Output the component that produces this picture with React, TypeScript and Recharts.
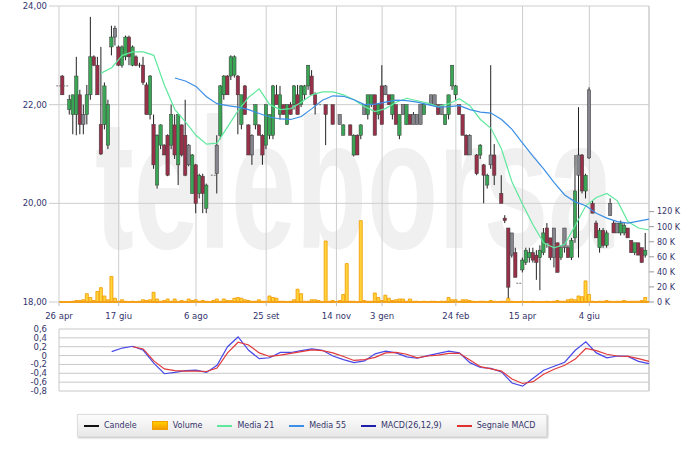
import React from 'react'
import { ComposedChart, Bar, Line, XAxis, YAxis, CartesianGrid, ReferenceLine } from 'recharts'

const FONT = "Tahoma, 'DejaVu Sans', sans-serif"
const TEXT = '#34346c'

// sessions on the x axis where a date label sits
const tickSessions = [0, 17, 39, 59, 79, 92, 113, 132, 151]
const tickLabels = ['26 apr', '17 giu', '6 ago', '25 set', '14 nov', '3 gen', '24 feb', '15 apr', '4 giu']
const lastSession = 168

const priceTicks = [18, 20, 22, 24]
const volTicks = [0, 20, 40, 60, 80, 100, 120]
const macdTicks = [0.6, 0.4, 0.2, 0, -0.2, -0.4, -0.6, -0.8]

// [open, high, low, close] per session, null = no trades
const candles: (number[] | null)[] = [
  // 0-9
  [22.38, 22.38, 22.38, 22.38], [22.58, 22.6, 22.2, 22.2], [22.38, 22.38, 22.38, 22.38], [21.9, 22.2, 21.8, 22.1], [21.8, 22.2, 21.4, 22.2],
  [21.8, 22.97, 21.38, 22.58], [22.2, 22.3, 21.4, 21.6], [21.8, 22.0, 21.4, 21.6], [21.8, 22.4, 21.6, 22.2], [22.2, 23.78, 22.1, 22.97],
  // 10-19
  [22.97, 23.0, 22.78, 22.8], [22.8, 22.97, 22.2, 22.2], [21.6, 23.17, 20.98, 21.0], [21.6, 22.45, 21.5, 22.38], [21.18, 22.1, 21.1, 22.0],
  [23.17, 23.6, 23.0, 23.37], [23.55, 23.6, 23.2, 23.37], [23.17, 23.2, 22.78, 22.8], [22.8, 23.2, 22.75, 23.17], [22.97, 23.4, 22.9, 23.37],
  // 20-29
  [23.37, 23.4, 22.8, 22.97], [22.8, 23.2, 22.78, 23.17], [22.97, 23.0, 22.78, 22.8], [22.8, 22.85, 22.75, 22.8], [22.8, 22.97, 22.4, 22.45],
  [22.4, 22.45, 21.8, 21.8], [21.8, 22.6, 21.7, 22.58], [21.6, 21.8, 20.7, 20.78], [20.37, 21.4, 20.3, 21.38], [21.18, 21.6, 21.1, 21.59],
  // 30-39
  [21.18, 21.2, 20.98, 20.98], [21.38, 21.4, 20.55, 20.57], [21.18, 22.0, 21.1, 21.8], [21.59, 21.8, 20.9, 20.98], [20.78, 21.8, 20.37, 21.8],
  [21.59, 21.6, 20.95, 20.98], [21.38, 22.1, 20.55, 20.57], [21.18, 21.2, 20.75, 20.78], [20.2, 21.0, 20.2, 20.98], [20.78, 20.8, 19.8, 20.0],
  // 40-49
  [20.2, 20.6, 20.1, 20.57], [20.55, 20.6, 19.8, 20.2], [19.9, 20.4, 19.8, 20.37], null, [20.57, 20.57, 20.57, 20.57],
  [21.18, 21.38, 20.2, 20.6], [21.38, 22.4, 21.3, 22.38], [22.2, 22.6, 22.1, 22.58], [22.58, 22.6, 22.2, 22.2], [22.58, 23.0, 22.5, 22.97],
  // 50-59
  [22.6, 23.0, 22.55, 22.97], [22.58, 22.6, 21.4, 22.2], [21.6, 22.2, 21.5, 22.2], [22.38, 22.4, 21.8, 21.8], [21.59, 21.6, 20.98, 20.98],
  [21.38, 21.4, 20.78, 20.98], [21.59, 22.0, 21.5, 22.0], [21.59, 21.6, 21.38, 21.38], [21.38, 21.4, 20.78, 20.98], [21.18, 22.0, 21.1, 22.0],
  // 60-69
  [21.38, 21.8, 21.3, 21.8], [21.38, 22.4, 21.3, 22.38], [22.2, 22.4, 22.0, 22.0], [21.8, 22.38, 21.7, 22.2], [22.0, 22.0, 21.8, 21.8],
  [21.6, 22.0, 21.59, 22.0], [22.0, 22.05, 21.8, 21.8], [22.0, 22.4, 21.9, 22.38], [22.2, 22.4, 21.8, 21.8], [22.0, 22.4, 21.95, 22.38],
  // 70-79
  [22.2, 22.4, 22.1, 22.38], [22.38, 22.8, 22.3, 22.8], [22.58, 22.7, 22.2, 22.2], [22.2, 22.25, 21.8, 22.0], [22.0, 22.0, 22.0, 22.0],
  null, [22.0, 22.0, 21.18, 21.8], null, [22.0, 22.0, 21.6, 21.6], null,
  // 80-89
  [21.8, 21.8, 21.6, 21.6], [21.38, 21.6, 21.38, 21.59], null, [21.59, 21.6, 21.38, 21.38], [20.98, 21.4, 20.95, 21.38],
  [21.38, 21.4, 20.98, 20.98], [21.38, 21.6, 21.3, 21.59], [22.0, 22.0, 21.8, 21.8], [21.8, 22.2, 21.7, 22.2], [22.0, 22.2, 21.95, 22.2],
  // 90-99
  [22.2, 22.2, 21.38, 21.38], [21.8, 22.0, 21.7, 22.0], [22.38, 22.8, 21.6, 21.6], [22.38, 22.4, 22.2, 22.2], [22.2, 22.2, 22.0, 22.0],
  [21.8, 22.2, 21.7, 22.2], [22.0, 22.0, 21.6, 21.6], [21.38, 21.8, 21.3, 21.8], [22.0, 22.0, 21.8, 21.8], [21.6, 22.0, 21.59, 22.0],
  // 100-109
  [21.8, 21.8, 21.6, 21.6], [21.8, 21.85, 21.6, 21.6], [21.8, 21.8, 21.6, 21.6], [22.0, 22.0, 21.6, 21.6], [21.8, 22.0, 21.8, 22.0],
  null, [22.2, 22.2, 22.0, 22.0], [22.2, 22.2, 22.0, 22.0], [22.0, 22.0, 21.8, 21.8], [22.0, 22.0, 21.8, 21.8],
  // 110-119
  [21.6, 21.8, 21.59, 21.8], [21.8, 22.2, 21.7, 22.2], [22.38, 22.8, 22.3, 22.8], [22.2, 22.4, 22.1, 22.38], [22.0, 22.0, 21.8, 21.8],
  [21.8, 21.8, 21.38, 21.38], [21.38, 21.4, 20.98, 20.98], [21.38, 21.4, 20.98, 20.98], null, [20.98, 21.0, 20.57, 20.6],
  // 120-129
  [20.98, 21.2, 20.9, 21.18], [20.78, 20.8, 20.0, 20.57], [20.37, 20.6, 20.3, 20.57], [20.98, 22.8, 20.7, 20.78], [20.98, 21.2, 20.37, 20.57],
  null, [20.2, 20.57, 20.0, 20.0], [19.7, 19.76, 19.6, 19.65], [19.5, 19.5, 18.08, 18.3], [19.4, 19.4, 18.9, 18.95],
  // 130-139
  [19.0, 19.1, 18.5, 18.5], [18.38, 18.38, 18.38, 18.38], [18.65, 18.9, 18.6, 18.85], [18.8, 19.1, 18.75, 19.05], [18.9, 19.1, 18.8, 19.0],
  [19.0, 19.1, 18.8, 18.85], [18.95, 19.05, 18.45, 18.8], [18.9, 19.15, 18.24, 19.05], [19.0, 19.5, 18.95, 19.4], [19.5, 19.6, 19.1, 19.2],
  // 140-149
  [19.3, 19.3, 18.85, 18.9], [19.5, 19.5, 18.7, 18.9], [19.2, 19.2, 18.6, 18.6], [18.9, 19.15, 18.85, 19.1], [19.5, 19.5, 19.0, 19.1],
  [19.1, 19.15, 18.9, 18.9], [18.9, 19.3, 18.85, 19.25], [19.3, 20.98, 19.2, 20.25], [20.98, 21.95, 18.9, 20.57], [20.98, 21.0, 20.2, 20.25],
  // 150-159
  [20.25, 20.6, 20.1, 20.57], [22.3, 22.35, 20.9, 20.92], [20.0, 20.05, 19.8, 19.8], [19.6, 19.65, 19.3, 19.3], [19.1, 19.5, 19.0, 19.45],
  [19.45, 19.5, 19.1, 19.15], [19.15, 19.45, 19.1, 19.4], [20.0, 20.1, 19.75, 19.75], [19.6, 19.65, 19.4, 19.4], [19.6, 19.6, 19.4, 19.4],
  // 160-167
  [19.4, 19.65, 19.35, 19.6], [19.4, 19.6, 19.35, 19.55], [19.5, 19.5, 19.3, 19.3], [19.25, 19.25, 19.0, 19.0], [19.0, 19.2, 18.95, 19.2],
  [19.2, 19.2, 18.95, 18.95], [19.1, 19.1, 18.8, 18.8], [18.95, 19.4, 18.9, 19.05],
]

// traded volume per session, thousands
const volumes = [
  0, 0, 0, 0, 1, 2, 2, 3, 11, 6,
  2, 14, 19, 8, 3, 34, 5, 1, 3, 1,
  0, 1, 0, 1, 3, 2, 3, 13, 4, 1,
  2, 4, 1, 4, 1, 2, 1, 4, 2, 3,
  1, 2, 1, 0, 2, 4, 1, 4, 2, 2,
  5, 6, 5, 3, 2, 1, 1, 3, 1, 1,
  8, 6, 5, 1, 1, 0, 1, 3, 17, 11,
  1, 1, 3, 3, 2, 0, 81, 1, 2, 0,
  2, 10, 51, 1, 1, 0, 108, 2, 1, 1,
  12, 6, 2, 9, 5, 2, 3, 4, 4, 1,
  4, 1, 1, 0, 1, 0, 1, 1, 0, 1,
  1, 6, 3, 3, 1, 3, 3, 2, 1, 0,
  1, 1, 0, 2, 1, 0, 1, 1, 5, 1,
  0, 0, 1, 0, 0, 1, 0, 0, 0, 1,
  0, 1, 2, 1, 1, 3, 4, 3, 8, 7,
  28, 10, 1, 0, 1, 1, 2, 1, 0, 1,
  1, 2, 1, 1, 1, 1, 2, 6,
]

// indicator readings every 3 sessions (0, 3, 6 ... 168)
const lineStep = 3
const ma21 = [
  null, null, null, null, 22.64, 22.75, 23.0, 23.07, 23.07, 23.0,
  22.4, 21.9, 21.65, 21.38, 21.2, 21.22, 21.55, 21.88, 22.15, 22.32,
  22.0, 21.9, 21.92, 22.05, 22.2, 22.26, 22.26, 22.2, 22.1, 21.96,
  21.86, 21.92, 22.05, 22.13, 22.08, 22.03, 21.96, 22.02, 22.12, 21.98,
  21.7, 21.52, 21.1, 20.43, 19.98, 19.56, 19.2, 19.1, 19.17, 19.55,
  19.95, 20.12, 20.2, 20.05, 19.63, 19.5, 19.46,
]
const ma55 = [
  null, null, null, null, null, null, null, null, null, null,
  null, 22.54, 22.48, 22.37, 22.16, 22.02, 21.98, 21.95, 21.9, 21.82,
  21.75, 21.71, 21.7, 21.76, 21.92, 22.09, 22.18, 22.17, 22.1, 22.0,
  22.01, 22.05, 22.09, 22.08, 22.05, 22.0, 21.95, 21.96, 21.98, 21.9,
  21.85, 21.83, 21.7, 21.5, 21.22, 20.95, 20.7, 20.42, 20.17, 20.03,
  19.95, 19.8, 19.7, 19.63, 19.6, 19.64, 19.68,
]
const macd = [
  null, null, null, null, null, 0.09, 0.17, 0.21, 0.12, -0.17,
  -0.41, -0.38, -0.34, -0.33, -0.38, -0.22, 0.2, 0.42, 0.12, -0.07,
  -0.05, 0.07, 0.07, 0.11, 0.15, 0.12, -0.01, -0.09, -0.16, -0.12,
  0.04, 0.1, 0.06, -0.03, -0.06, 0.0, 0.05, 0.1, 0.06, -0.16,
  -0.27, -0.29, -0.37, -0.62, -0.69, -0.51, -0.33, -0.24, -0.15, 0.12,
  0.31, 0.06, -0.05, -0.01, -0.02, -0.13, -0.18,
]
const signal = [
  null, null, null, null, null, null, null, 0.2, 0.15, -0.12,
  -0.3, -0.34, -0.35, -0.35, -0.36, -0.28, 0.06, 0.3, 0.24, 0.06,
  -0.02, 0.01, 0.05, 0.09, 0.13, 0.11, 0.06, -0.02, -0.11, -0.09,
  -0.04, 0.06, 0.07, 0.03, -0.05, -0.01, 0.01, 0.05, 0.05, -0.1,
  -0.25, -0.3, -0.35, -0.53, -0.63, -0.59, -0.42, -0.31, -0.22, -0.08,
  0.16, 0.11, 0.03, -0.01, -0.02, -0.07, -0.13,
]

const legendItems = [
  { label: 'Candele', color: '#111111', box: false },
  { label: 'Volume', color: '#f5a300', box: true },
  { label: 'Media 21', color: '#5fe89c', box: false },
  { label: 'Media 55', color: '#3b8fe6', box: false },
  { label: 'MACD(26,12,9)', color: '#1f1faa', box: false },
  { label: 'Segnale MACD', color: '#e03030', box: false },
]

const rows = Array.from({ length: lastSession + 1 }, (_, i) => {
  const c = candles[i] ?? null
  let prevClose: number | null = null
  for (let k = i - 1; k >= 0; k--) {
    if (candles[k]) { prevClose = candles[k]![3]; break }
  }
  const li = i % lineStep === 0 ? i / lineStep : -1
  return {
    i,
    ohlc: c,
    prevClose,
    range: c ? [c[2], c[1]] : null,
    vol: i < volumes.length ? volumes[i] : null,
    ma21: li >= 0 ? ma21[li] : null,
    ma55: li >= 0 ? ma55[li] : null,
    macd: li >= 0 ? macd[li] : null,
    signal: li >= 0 ? signal[li] : null,
  }
})

const dateLabel = (v: number) => tickLabels[tickSessions.indexOf(v)] ?? ''
const comma = (v: number, d: number) => (v === 0 ? '0' : v.toFixed(d).replace('.', ','))

const Candle = (props: any) => {
  const { x, y, width, height, payload } = props
  if (!payload || !payload.ohlc) return null
  const [o, h, l, c] = payload.ohlc
  const cx = x + width / 2
  const top = Math.min(y, y + height)
  const span = Math.abs(height)
  const yOf = (v: number) => (h === l ? top : top + ((h - v) / (h - l)) * span)

  if (o === c) {
    return (
      <g>
        {h !== l && <line x1={cx} x2={cx} y1={yOf(h)} y2={yOf(l)} stroke="#222" strokeWidth={1} />}
        <line x1={cx - 2.5} x2={cx + 2.5} y1={yOf(o)} y2={yOf(o)} stroke="#777" strokeWidth={1} strokeDasharray="2 1" />
      </g>
    )
  }

  // up = green; down = red, or grey when it still closes above the previous session
  let fill = '#3aa655'
  if (c < o) fill = payload.prevClose !== null && c >= payload.prevClose ? '#85858d' : '#993049'
  const bTop = Math.min(yOf(o), yOf(c))
  const bH = Math.max(1, Math.abs(yOf(o) - yOf(c)))
  return (
    <g>
      <line x1={cx} x2={cx} y1={yOf(h)} y2={yOf(l)} stroke="#222" strokeWidth={1} />
      <rect x={cx - 1.7} y={bTop} width={3.4} height={bH} fill={fill} stroke="#3a3a3a" strokeWidth={0.5} />
    </g>
  )
}

const tickStyle = { fontSize: 8.5, fill: TEXT, fontFamily: FONT }
const volTickStyle = { fontSize: 8, fill: TEXT, fontFamily: FONT }

export default function App() {
  return (
    <div style={{ position: 'absolute', left: 0, top: 0, width: 700, height: 451, background: '#fff', overflow: 'hidden', fontFamily: FONT }}>
      <svg width={700} height={320} style={{ position: 'absolute', left: 0, top: 0 }}>
        <text transform="translate(95 248) scale(0.63 1)" fontSize={185} fontWeight="bold"
          fontFamily="'Liberation Sans', sans-serif" fill="#f0f0f0">teleborsa</text>
      </svg>

      <div style={{ position: 'absolute', left: 0, top: 0 }}>
        <ComposedChart width={700} height={322} data={rows} margin={{ top: 6, right: 0, bottom: 4, left: 8 }}>
          <CartesianGrid stroke="#cdcdcd" />
          <XAxis type="number" dataKey="i" domain={[0, lastSession]} ticks={tickSessions} interval={0}
            tickFormatter={dateLabel} tick={tickStyle} tickSize={4} tickMargin={7}
            tickLine={{ stroke: '#bbbbbb' }} axisLine={false} height={16} />
          <XAxis xAxisId="vx" type="number" dataKey="i" domain={[0, lastSession]} hide />
          <YAxis domain={[18, 24]} ticks={priceTicks} interval={0} width={51}
            tickFormatter={(v: number) => comma(v, 2)} tick={tickStyle} tickSize={10} tickMargin={2}
            tickLine={{ stroke: '#cdcdcd' }} axisLine={false} />
          <YAxis yAxisId="vol" orientation="right" domain={[0, 393]} ticks={volTicks} interval={0} width={51}
            tickFormatter={(v: number) => `${v} K`} tick={volTickStyle} tickSize={5} tickMargin={3}
            tickLine={{ stroke: '#999999' }} axisLine={false} />
          <ReferenceLine x={lastSession} stroke="#cdcdcd" />
          <Bar xAxisId="vx" yAxisId="vol" dataKey="vol" barSize={3} fill="#ffd43a" stroke="#f39800"
            strokeWidth={0.8} isAnimationActive={false} />
          <ReferenceLine xAxisId="vx" yAxisId="vol" y={0} stroke="#f5a01a" strokeWidth={2} />
          <Bar dataKey="range" barSize={3} shape={<Candle />} isAnimationActive={false} />
          <Line dataKey="ma21" stroke="#5fe89c" strokeWidth={1.2} dot={false} connectNulls isAnimationActive={false} />
          <Line dataKey="ma55" stroke="#3b8fe6" strokeWidth={1.2} dot={false} connectNulls isAnimationActive={false} />
        </ComposedChart>
      </div>

      <div style={{ position: 'absolute', left: 0, top: 320 }}>
        <ComposedChart width={700} height={80} data={rows} margin={{ top: 9, right: 51, bottom: 9, left: 8 }}>
          <CartesianGrid stroke="#c8c8c8" />
          <XAxis type="number" dataKey="i" domain={[0, lastSession]} ticks={tickSessions} interval={0}
            tick={false} tickLine={false} axisLine={false} height={0} />
          <YAxis domain={[-0.8, 0.6]} ticks={macdTicks} interval={0} width={51}
            tickFormatter={(v: number) => comma(v, 1)} tick={tickStyle} tickSize={0} tickMargin={12}
            tickLine={false} axisLine={false} />
          <ReferenceLine x={lastSession} stroke="#c8c8c8" />
          <Line dataKey="macd" stroke="#4848e8" strokeWidth={1.2} dot={false} connectNulls isAnimationActive={false} />
          <Line dataKey="signal" stroke="#e23a3a" strokeWidth={1.2} dot={false} connectNulls isAnimationActive={false} />
        </ComposedChart>
      </div>

      <div style={{
        position: 'absolute', left: 77, top: 414, width: 470, height: 23, boxSizing: 'border-box',
        background: 'linear-gradient(#fcfcfc, #e8e8e8)', border: '1px solid #dedede', boxShadow: '1px 1px 2px #bdbdbd',
        display: 'flex', alignItems: 'center', paddingLeft: 6, gap: 15, fontSize: 8, color: TEXT, whiteSpace: 'nowrap',
      }}>
        {legendItems.map((it) => (
          <div key={it.label} style={{ display: 'flex', alignItems: 'center', gap: 5, flexShrink: 0 }}>
            {it.box
              ? <span style={{ width: 16, height: 9, background: 'linear-gradient(#ffd000, #f59a00)', border: '1px solid #f0a000', boxSizing: 'border-box' }} />
              : <span style={{ width: 15, height: 2, background: it.color }} />}
            <span>{it.label}</span>
          </div>
        ))}
      </div>
    </div>
  )
}
